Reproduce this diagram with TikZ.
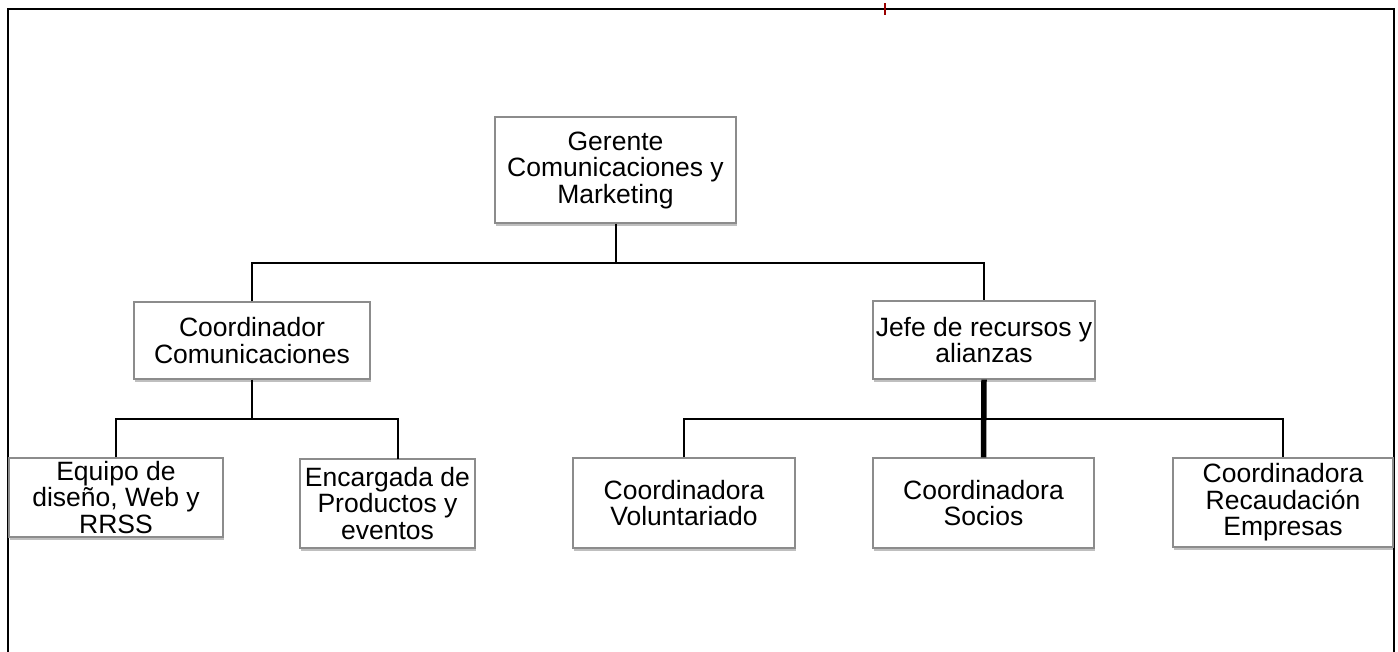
\documentclass[tikz,border=0pt]{standalone}
\usepackage{fontspec}
\setmainfont{Liberation Sans}
\usetikzlibrary{shadows}
\begin{document}
\begin{tikzpicture}[x=1pt,y=-1pt,
  box/.style={draw=black!45, line width=1.3pt, fill=white, inner sep=0pt, align=center,
    font=\fontsize{26.5}{26.5}\selectfont,
    drop shadow={shadow xshift=0.5pt, shadow yshift=-2.5pt, opacity=0.25, fill=black}},
  conn/.style={line width=2pt, black},
  thickconn/.style={line width=5.5pt, black}]
\useasboundingbox (0,0) rectangle (1398,651);
% frame
\draw[line width=2.5pt] (8,652) -- (8,9) -- (1394,9) -- (1394,652);
\draw[line width=2pt, red!60!black] (885,3) -- (885,15);
% nodes
\node[box, minimum width=241pt, minimum height=106pt] (ger) at (615.5,170) {Gerente\\Comunicaciones y\\Marketing};
\node[box, minimum width=236pt, minimum height=77pt] (cc) at (252,340.5) {Coordinador\\Comunicaciones};
\node[box, minimum width=222pt, minimum height=78pt] (jefe) at (984,340) {Jefe de recursos y\\alianzas};
\node[box, minimum width=214pt, minimum height=79pt] (eq) at (116,497.5) {Equipo de\\diseño, Web y\\RRSS};
\node[box, minimum width=175pt, minimum height=89pt] (enc) at (387.5,503.5) {Encargada de\\Productos y\\eventos};
\node[box, minimum width=222pt, minimum height=90pt] (vol) at (684,503) {Coordinadora\\Voluntariado};
\node[box, minimum width=221pt, minimum height=90pt] (soc) at (983.5,503) {Coordinadora\\Socios};
\node[box, minimum width=220pt, minimum height=89pt] (rec) at (1283,502.5) {Coordinadora\\Recaudación\\Empresas};
% bus coordinates
\coordinate (b1) at (615,263);
\coordinate (b2) at (252,419);
\coordinate (b3) at (984,419);
% top level
\draw[conn] (ger.south) -- (ger.south |- b1);
\draw[conn] (cc.north) |- (ger.south |- b1) -| (jefe.north);
% left branch
\draw[conn] (cc.south) -- (cc.south |- b2);
\draw[conn] (eq.north) |- (cc.south |- b2) -| (398,459) coordinate (encin);
\draw[conn] (encin) -- (enc.north -| encin);
% right branch
\draw[conn] (vol.north) |- (b3) -| (rec.north);
\draw[thickconn] (jefe.south) -- (soc.north);
\end{tikzpicture}
\end{document}
